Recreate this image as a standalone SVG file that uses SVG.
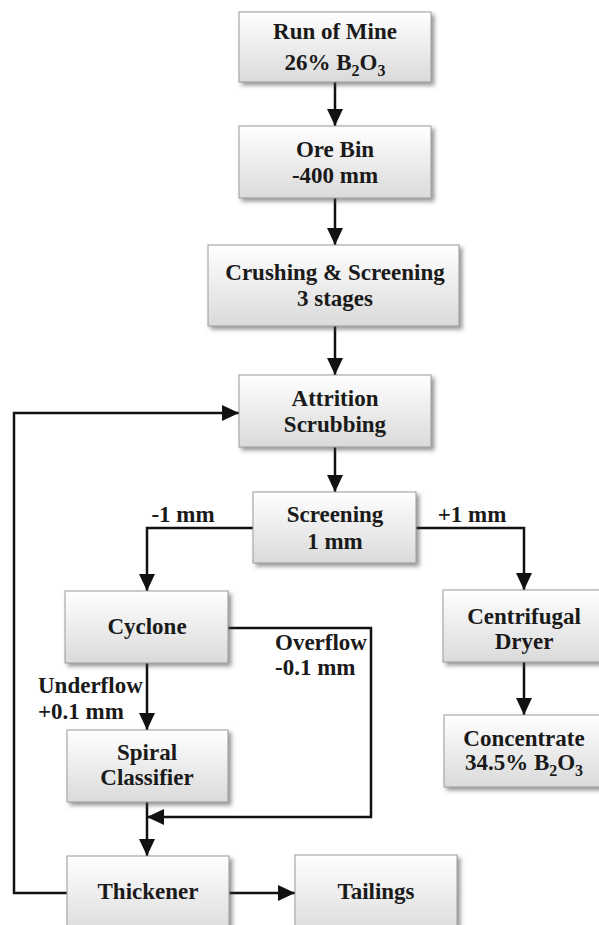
<svg xmlns="http://www.w3.org/2000/svg" width="599" height="925" viewBox="0 0 599 925">
<style>
.box{fill:url(#g);stroke:#9a9a9a;stroke-width:1;filter:url(#sh)}
.t{font-family:"Liberation Serif","Times New Roman",serif;font-weight:bold;font-size:23px;fill:#1a1a1a;text-anchor:middle}
.l{text-anchor:start}
.sub{font-size:16px}
.c{fill:none;stroke:#111;stroke-width:2.5}
</style>
<defs>
<linearGradient id="g" x1="0" y1="0" x2="0" y2="1">
<stop offset="0" stop-color="#ffffff"/>
<stop offset="1" stop-color="#dadada"/>
</linearGradient>
<filter id="sh" x="-10%" y="-10%" width="130%" height="140%">
<feDropShadow dx="3" dy="3" stdDeviation="2" flood-color="#444" flood-opacity="0.55"/>
</filter>
<marker id="a" markerUnits="userSpaceOnUse" markerWidth="17" markerHeight="16" refX="17" refY="8" orient="auto">
<path d="M0,0 L17,8 L0,16 z" fill="#111"/>
</marker>
</defs>
<g id="connectors">
<path class="c" d="M335,82 V126" marker-end="url(#a)"/>
<path class="c" d="M335,198 V245" marker-end="url(#a)"/>
<path class="c" d="M335,326 V375" marker-end="url(#a)"/>
<path class="c" d="M335,447 V492" marker-end="url(#a)"/>
<path class="c" d="M253,528 H147 V591" marker-end="url(#a)"/>
<path class="c" d="M416,528 H524 V590" marker-end="url(#a)"/>
<path class="c" d="M147,663 V730" marker-end="url(#a)"/>
<path class="c" d="M228,628 H371 V817 H147" marker-end="url(#a)"/>
<path class="c" d="M147,802 V856" marker-end="url(#a)"/>
<path class="c" d="M524,662 V715" marker-end="url(#a)"/>
<path class="c" d="M229,893 H295" marker-end="url(#a)"/>
<path class="c" d="M67,893 H14 V413 H239" marker-end="url(#a)"/>
<text class="t" x="183" y="522">-1 mm</text>
<text class="t" x="472" y="522">+1 mm</text>
<text class="t l" x="275" y="650">Overflow</text>
<text class="t l" x="275" y="675">-0.1 mm</text>
<text class="t l" x="38" y="693">Underflow</text>
<text class="t l" x="38" y="719">+0.1 mm</text>
</g>
<g id="run-of-mine">
<rect class="box" x="239" y="12" width="192" height="70"/>
<text class="t" x="335" y="39">Run of Mine</text>
<text class="t" x="335" y="70">26% B<tspan class="sub" dy="6">2</tspan><tspan dy="-6">O</tspan><tspan class="sub" dy="6">3</tspan></text>
</g>
<g id="ore-bin">
<rect class="box" x="239" y="126" width="192" height="72"/>
<text class="t" x="335" y="157">Ore Bin</text>
<text class="t" x="335" y="183">-400 mm</text>
</g>
<g id="crushing">
<rect class="box" x="208" y="245" width="251" height="81"/>
<text class="t" x="335" y="280">Crushing &amp; Screening</text>
<text class="t" x="335" y="306">3 stages</text>
</g>
<g id="attrition">
<rect class="box" x="239" y="375" width="192" height="72"/>
<text class="t" x="335" y="406">Attrition</text>
<text class="t" x="335" y="432">Scrubbing</text>
</g>
<g id="screening">
<rect class="box" x="253" y="492" width="163" height="71"/>
<text class="t" x="335" y="522">Screening</text>
<text class="t" x="335" y="549">1 mm</text>
</g>
<g id="cyclone">
<rect class="box" x="65" y="591" width="163" height="72"/>
<text class="t" x="147" y="634">Cyclone</text>
</g>
<g id="spiral-classifier">
<rect class="box" x="67" y="730" width="161" height="72"/>
<text class="t" x="147" y="760">Spiral</text>
<text class="t" x="147" y="785">Classifier</text>
</g>
<g id="thickener">
<rect class="box" x="67" y="856" width="162" height="80"/>
<text class="t" x="148" y="899">Thickener</text>
</g>
<g id="tailings">
<rect class="box" x="295" y="855" width="162" height="81"/>
<text class="t" x="376" y="899">Tailings</text>
</g>
<g id="centrifugal-dryer">
<rect class="box" x="443" y="590" width="163" height="72"/>
<text class="t" x="524" y="624">Centrifugal</text>
<text class="t" x="524" y="649">Dryer</text>
</g>
<g id="concentrate">
<rect class="box" x="444" y="715" width="162" height="72"/>
<text class="t" x="524" y="746">Concentrate</text>
<text class="t" x="524" y="770">34.5% B<tspan class="sub" dy="6">2</tspan><tspan dy="-6">O</tspan><tspan class="sub" dy="6">3</tspan></text>
</g>
</svg>
